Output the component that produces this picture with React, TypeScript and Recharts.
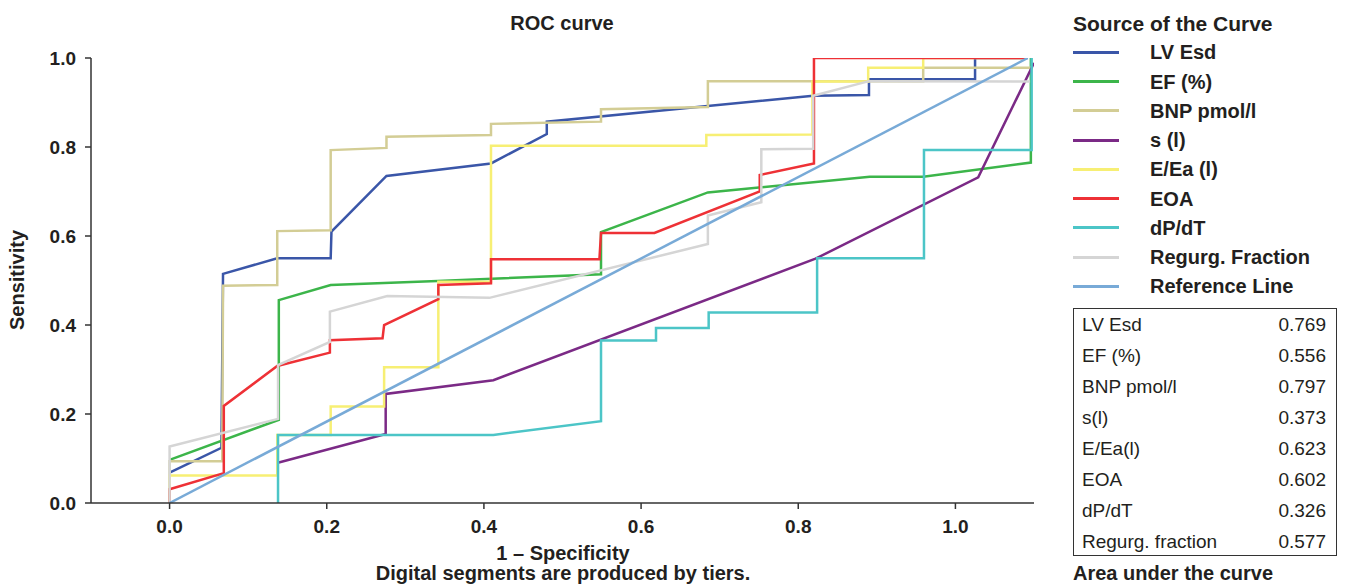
import React from 'react';
import { LineChart, Line, XAxis, YAxis } from 'recharts';

// [1 - specificity, sensitivity] pairs
const lvEsd = [[0,0.068],[0.066,0.124],[0.068,0.515],[0.137,0.55],[0.205,0.55],[0.206,0.61],[0.276,0.735],[0.409,0.763],[0.48,0.829],[0.48,0.857],[0.819,0.915],[0.89,0.917],[0.89,0.952],[1.025,0.952],[1.025,1.0],[1.092,1.0]];
const efPct = [[0,0.097],[0.139,0.187],[0.139,0.456],[0.205,0.49],[0.341,0.499],[0.549,0.514],[0.549,0.609],[0.685,0.698],[0.891,0.733],[0.959,0.733],[1.096,0.765],[1.096,1.0]];
const bnp = [[0,0],[0,0.094],[0.067,0.094],[0.068,0.488],[0.137,0.49],[0.137,0.611],[0.205,0.613],[0.205,0.793],[0.276,0.798],[0.276,0.823],[0.409,0.827],[0.409,0.852],[0.549,0.857],[0.549,0.885],[0.685,0.89],[0.685,0.948],[0.959,0.948],[0.959,0.978],[1.097,0.978]];
const sL = [[0.139,0.091],[0.275,0.155],[0.275,0.245],[0.412,0.276],[0.822,0.549],[1.029,0.732],[1.1,0.989]];
const eEa = [[0,0],[0,0.062],[0.137,0.062],[0.137,0.153],[0.205,0.153],[0.205,0.217],[0.273,0.217],[0.273,0.305],[0.342,0.305],[0.342,0.497],[0.409,0.497],[0.409,0.803],[0.683,0.803],[0.683,0.827],[0.818,0.828],[0.818,0.947],[0.889,0.947],[0.889,0.978],[0.959,0.978],[0.959,1.0],[1.09,1.0]];
const eoa = [[0,0],[0,0.031],[0.069,0.067],[0.069,0.218],[0.137,0.308],[0.204,0.338],[0.204,0.366],[0.271,0.37],[0.273,0.4],[0.342,0.458],[0.342,0.49],[0.409,0.494],[0.409,0.548],[0.547,0.548],[0.549,0.607],[0.617,0.607],[0.751,0.7],[0.751,0.737],[0.82,0.763],[0.82,1.0],[1.09,1.0]];
const dpdt = [[0.138,0],[0.138,0.153],[0.412,0.153],[0.549,0.184],[0.549,0.365],[0.619,0.365],[0.619,0.393],[0.686,0.393],[0.686,0.428],[0.824,0.428],[0.824,0.55],[0.96,0.55],[0.96,0.793],[1.097,0.793],[1.097,1.0]];
const regurg = [[0,0],[0,0.127],[0.138,0.189],[0.138,0.31],[0.204,0.362],[0.204,0.43],[0.277,0.465],[0.407,0.461],[0.685,0.582],[0.685,0.646],[0.753,0.676],[0.753,0.795],[0.819,0.796],[0.819,0.915],[0.89,0.948],[1.095,0.947]];
const refLine = [[0,0],[1.092,1.0]];

const seriesNames = ['LV Esd','EF (%)','BNP pmol/l','s (l)','E/Ea (l)','EOA','dP/dT','Regurg. Fraction','Reference Line'];
const seriesData = [lvEsd, efPct, bnp, sL, eEa, eoa, dpdt, regurg, refLine];
const seriesColors = ['#3a56a8','#3cb54a','#d3cd95','#7b2a86','#f7ef74','#ee3136','#4cc5c7','#d5d5d5','#78aad7'];

const aucNames = ['LV Esd','EF (%)','BNP pmol/l','s(l)','E/Ea(l)','EOA','dP/dT','Regurg. fraction'];
const aucValues = ['0.769','0.556','0.797','0.373','0.623','0.602','0.326','0.577'];

const xTicks = [0, 0.2, 0.4, 0.6, 0.8, 1.0];
const yTicks = [0, 0.2, 0.4, 0.6, 0.8, 1.0];

const FONT = '"Liberation Sans", Arial, Helvetica, sans-serif';
const INK = '#231f20';

const toPts = (a: number[][]) => a.map(([x, y]) => ({ x, y }));

export default function App() {
  const abs = (s: React.CSSProperties): React.CSSProperties => ({ position: 'absolute', fontFamily: FONT, color: INK, whiteSpace: 'nowrap', ...s });
  return (
    <div style={{ position: 'absolute', left: 0, top: 0, width: 1346, height: 585, background: '#fff', overflow: 'hidden' }}>
      <LineChart width={1346} height={585} margin={{ top: 58, right: 312, bottom: 52, left: 31 }}>
        <XAxis
          type="number"
          dataKey="x"
          domain={[-0.1, 1.1]}
          ticks={xTicks}
          allowDataOverflow
          height={30}
          tickSize={6}
          tickMargin={11}
          tickFormatter={(v: number) => v.toFixed(1)}
          axisLine={{ stroke: '#333', strokeWidth: 1.5 }}
          tickLine={{ stroke: '#333', strokeWidth: 1.5 }}
          tick={{ fill: INK, fontSize: 19, fontWeight: 700, fontFamily: FONT }}
        />
        <YAxis
          type="number"
          dataKey="y"
          domain={[0, 1]}
          ticks={yTicks}
          allowDataOverflow
          width={60}
          tickSize={6}
          tickMargin={9}
          tickFormatter={(v: number) => v.toFixed(1)}
          axisLine={{ stroke: '#333', strokeWidth: 1.5 }}
          tickLine={{ stroke: '#333', strokeWidth: 1.5 }}
          tick={{ fill: INK, fontSize: 19, fontWeight: 700, fontFamily: FONT }}
        />
        {seriesData.map((d, i) => (
          <Line
            key={seriesNames[i]}
            data={toPts(d)}
            dataKey="y"
            type="linear"
            stroke={seriesColors[i]}
            strokeWidth={2.5}
            dot={false}
            activeDot={false}
            isAnimationActive={false}
          />
        ))}
      </LineChart>

      <div style={abs({ left: 412, width: 300, top: 11, textAlign: 'center', fontSize: 20, fontWeight: 700, lineHeight: '24px' })}>ROC curve</div>
      <div style={abs({ left: 17, top: 280, transform: 'translate(-50%, -50%) rotate(-90deg)', fontSize: 20, fontWeight: 700, lineHeight: '22px' })}>Sensitivity</div>
      <div style={abs({ left: 313, width: 500, top: 542, textAlign: 'center', fontSize: 20, fontWeight: 700, lineHeight: '22px' })}>1 – Specificity</div>
      <div style={abs({ left: 263, width: 600, top: 563, textAlign: 'center', fontSize: 20, fontWeight: 700, lineHeight: '21px' })}>Digital segments are produced by tiers.</div>

      <div style={abs({ left: 1073, top: 11, fontSize: 21, fontWeight: 700, lineHeight: '26px' })}>Source of the Curve</div>
      {seriesNames.map((n, i) => (
        <React.Fragment key={n}>
          <div style={{ position: 'absolute', left: 1073, top: 52.3 + i * 29.25 - 1.5, width: 46, height: 3, background: seriesColors[i] }} />
          <div style={abs({ left: 1150, top: 52.3 + i * 29.25 - 13, fontSize: 20, fontWeight: 700, lineHeight: '26px' })}>{n}</div>
        </React.Fragment>
      ))}

      <div style={{ position: 'absolute', left: 1073, top: 308, width: 264, height: 248, border: '1px solid #333', boxSizing: 'border-box' }} />
      {aucNames.map((n, i) => (
        <React.Fragment key={n}>
          <div style={abs({ left: 1082, top: 309 + i * 31, fontSize: 19, lineHeight: '31px' })}>{n}</div>
          <div style={abs({ left: 1226, width: 100, top: 309 + i * 31, textAlign: 'right', fontSize: 19, lineHeight: '31px' })}>{aucValues[i]}</div>
        </React.Fragment>
      ))}
      <div style={abs({ left: 1073, top: 563, fontSize: 20, fontWeight: 700, lineHeight: '21px' })}>Area under the curve</div>
    </div>
  );
}
